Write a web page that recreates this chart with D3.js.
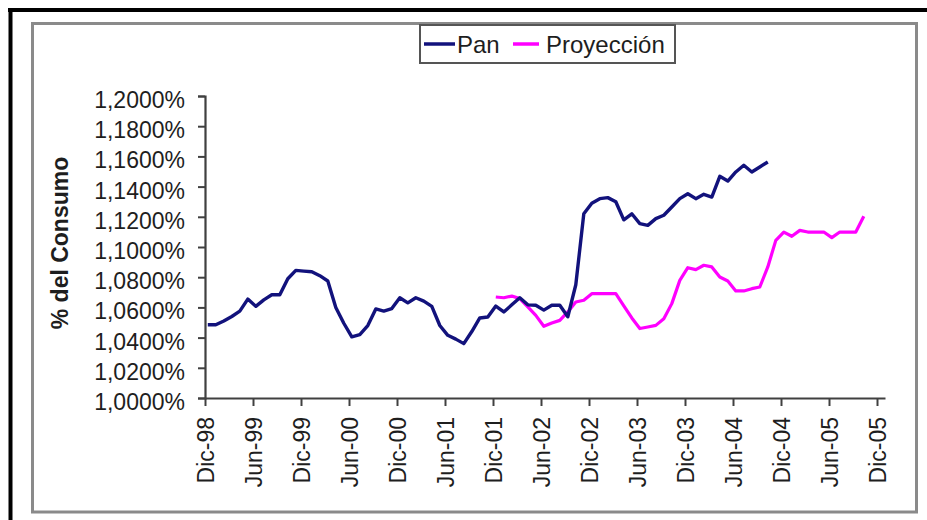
<!DOCTYPE html>
<html>
<head>
<meta charset="utf-8">
<script src="https://cdn.jsdelivr.net/npm/d3@7"></script>
<style>
  html, body { margin: 0; padding: 0; background: #ffffff; }
  svg { display: block; }
  text { font-family: "Liberation Sans", Arial, sans-serif; fill: #1e1e1e; }
</style>
</head>
<body>
<script>
// ---- data ----
const tickLabels = ["Dic-98","Jun-99","Dic-99","Jun-00","Dic-00","Jun-01","Dic-01","Jun-02","Dic-02","Jun-03","Dic-03","Jun-04","Dic-04","Jun-05","Dic-05"];
const yTicks = [1.00, 1.02, 1.04, 1.06, 1.08, 1.10, 1.12, 1.14, 1.16, 1.18, 1.20];
const seriesNames = ["Pan", "Proyección"];
// monthly values (% del consumo), Pan starts Dic-98 (month 0)
const panStart = 0;
const panValues = [
  1.0485, 1.0485, 1.0510, 1.0540, 1.0575, 1.0655, 1.0607, 1.0650, 1.0684, 1.0684,
  1.0790, 1.0845, 1.0840, 1.0836, 1.0810, 1.0775, 1.0600, 1.0495, 1.0405, 1.0420,
  1.0480, 1.0590, 1.0576, 1.0592, 1.0664, 1.0630, 1.0664, 1.0642, 1.0607, 1.0480,
  1.0415, 1.0390, 1.0360, 1.0440, 1.0530, 1.0536, 1.0609, 1.0570, 1.0617, 1.0664,
  1.0617, 1.0614, 1.0582, 1.0614, 1.0614, 1.0538, 1.0750, 1.1220, 1.1290, 1.1320,
  1.1327, 1.1300, 1.1180, 1.1220, 1.1155, 1.1143, 1.1188, 1.1210, 1.1265, 1.1320,
  1.1353, 1.1320, 1.1349, 1.1331, 1.1468, 1.1437, 1.1497, 1.1541, 1.1497, 1.1530,
  1.1563
];
// Proyección starts Dic-01 (month 36)
const proyStart = 36;
const proyValues = [
  1.0669, 1.0664, 1.0675, 1.0658, 1.0603, 1.0547, 1.0475, 1.0497, 1.0514, 1.0570,
  1.0636, 1.0647, 1.0691, 1.0691, 1.0691, 1.0691, 1.0610, 1.0530, 1.0460, 1.0470,
  1.0481, 1.0525, 1.0625, 1.0779, 1.0863, 1.0850, 1.0879, 1.0868, 1.0801, 1.0775,
  1.0709, 1.0709, 1.0724, 1.0735, 1.0868, 1.1044, 1.1099, 1.1071, 1.1110, 1.1099,
  1.1099, 1.1099, 1.1062, 1.1099, 1.1099, 1.1099, 1.1203
];
const colors = ["#12127c", "#ff00ff"];

// ---- drawing ----
const W = 927, H = 520;
const svg = d3.select("body").append("svg").attr("width", W).attr("height", H);

// outer black frame (cropped)
svg.append("line").attr("x1", 8).attr("x2", W).attr("y1", 10).attr("y2", 10)
  .attr("stroke", "#000").attr("stroke-width", 4);
svg.append("line").attr("x1", 10.5).attr("x2", 10.5).attr("y1", 8).attr("y2", H)
  .attr("stroke", "#000").attr("stroke-width", 4);

// inner chart-area border
svg.append("rect").attr("x", 32.5).attr("y", 23.5).attr("width", 884).attr("height", 488.5)
  .attr("fill", "#fff").attr("stroke", "#8a8a8a").attr("stroke-width", 3);

const x0 = 205, perMonth = 8, nMonths = 85;
const x = d3.scaleLinear().domain([0, nMonths]).range([x0, x0 + perMonth * nMonths]);
const y = d3.scaleLinear().domain([1.0, 1.2]).range([398, 96]);
const fmt = v => d3.format(".4f")(v).replace(".", ",") + "%";

// y axis
const yAxis = svg.append("g").attr("transform", `translate(${x0},0)`)
  .call(d3.axisLeft(y).tickValues(yTicks).tickFormat(fmt).tickSize(7).tickPadding(13));
yAxis.select(".domain").attr("stroke", "#404040").attr("stroke-width", 2.2);
yAxis.selectAll(".tick line").attr("stroke", "#404040").attr("stroke-width", 2);
yAxis.selectAll(".tick text").attr("font-size", 23).attr("fill", "#1e1e1e")
  .attr("font-family", "Liberation Sans, Arial, sans-serif").attr("dy", "0.5em");

// x axis
const tickMonths = tickLabels.map((d, i) => i * 6);
const xAxis = svg.append("g").attr("transform", `translate(0,${y(1.0)})`)
  .call(d3.axisBottom(x).tickValues(tickMonths).tickFormat((d, i) => tickLabels[i]).tickSize(8).tickSizeOuter(0));
xAxis.select(".domain").attr("stroke", "#404040").attr("stroke-width", 2.2);
xAxis.selectAll(".tick line").attr("stroke", "#404040").attr("stroke-width", 2);
xAxis.selectAll(".tick text")
  .attr("font-size", 23).attr("fill", "#1e1e1e")
  .attr("font-family", "Liberation Sans, Arial, sans-serif")
  .attr("text-anchor", "end")
  .attr("transform", "rotate(-90)")
  .attr("x", -19).attr("y", 0).attr("dy", "0.36em");

// y title
svg.append("text").attr("transform", "translate(68,243) rotate(-90)")
  .attr("text-anchor", "middle").attr("font-size", 23).attr("font-weight", "bold")
  .text("% del Consumo");

// lines
const offset = 0.35;
const line = d3.line().x(d => x(d.m + offset)).y(d => y(d.v));
const series = [
  panValues.map((v, i) => ({ m: panStart + i, v })),
  proyValues.map((v, i) => ({ m: proyStart + i, v }))
];
// draw Proyección first then Pan on top? Reference shows Pan over Proyección where they cross near 2002
svg.append("path").datum(series[1]).attr("d", line).attr("fill", "none")
  .attr("stroke", colors[1]).attr("stroke-width", 3.2).attr("stroke-linejoin", "round");
svg.append("path").datum(series[0]).attr("d", line).attr("fill", "none")
  .attr("stroke", colors[0]).attr("stroke-width", 3.4).attr("stroke-linejoin", "round");

// legend
const lg = svg.append("g");
lg.append("rect").attr("x", 420).attr("y", 25).attr("width", 255).attr("height", 38)
  .attr("fill", "#fff").attr("stroke", "#555").attr("stroke-width", 2);
const legendItems = [
  { name: seriesNames[0], color: colors[0], x1: 424, x2: 455, tx: 457 },
  { name: seriesNames[1], color: colors[1], x1: 513, x2: 539, tx: 546 }
];
legendItems.forEach(it => {
  lg.append("line").attr("x1", it.x1).attr("x2", it.x2).attr("y1", 44).attr("y2", 44)
    .attr("stroke", it.color).attr("stroke-width", 3.5);
  lg.append("text").attr("x", it.tx).attr("y", 52.5).attr("font-size", 24).text(it.name);
});
</script>
</body>
</html>
